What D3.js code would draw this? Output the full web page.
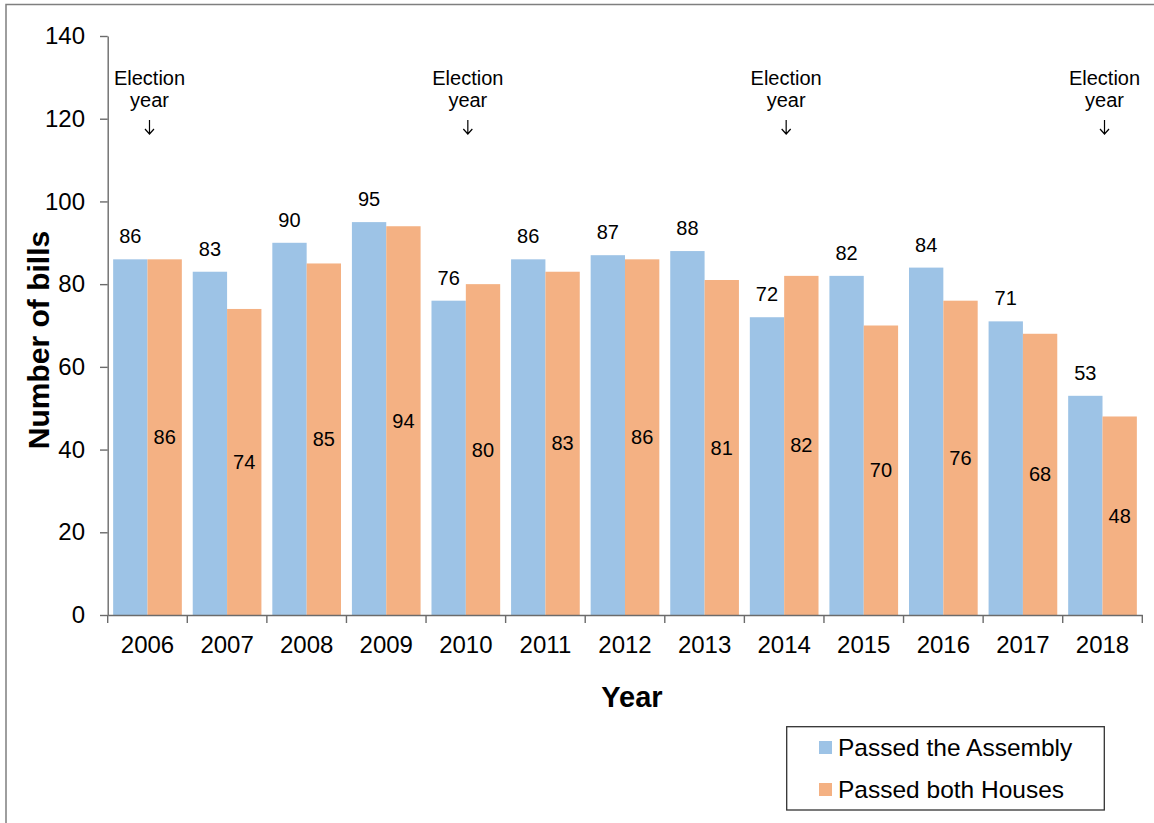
<!DOCTYPE html>
<html>
<head>
<meta charset="utf-8">
<script src="https://cdn.jsdelivr.net/npm/d3@7"></script>
<style>
  body { margin: 0; background: #fff; }
  svg text { font-family: "Liberation Sans", Arial, sans-serif; fill: #000; }
</style>
</head>
<body>
<div id="chart"></div>
<script>
const years = ["2006", "2007", "2008", "2009", "2010", "2011", "2012", "2013", "2014", "2015", "2016", "2017", "2018"];
const passedAssembly = [86, 83, 90, 95, 76, 86, 87, 88, 72, 82, 84, 71, 53];
const passedBoth = [86, 74, 85, 94, 80, 83, 86, 81, 82, 70, 76, 68, 48];
const electionYears = ["2006", "2010", "2014", "2018"];
const yTicks = [0, 20, 40, 60, 80, 100, 120, 140];
const seriesNames = ["Passed the Assembly", "Passed both Houses"];
const colors = ["#9dc3e6", "#f4b183"];

const w = 1154;
const h = 823;
const axisColor = "#6b6b6b";

let svg = d3.select("#chart").append("svg")
    .attr("width", w)
    .attr("height", h);

// outer frame
svg.append("rect")
    .attr("x", 6)
    .attr("y", 4.5)
    .attr("width", w + 20)
    .attr("height", h + 20)
    .attr("fill", "none")
    .attr("stroke", "#7f7f7f")
    .attr("stroke-width", 1.5);

let xScale = d3.scaleBand()
    .domain(years)
    .range([107.7, 1142.3])
    .paddingInner(0.137)
    .paddingOuter(0.0685);

let xInner = d3.scaleBand()
    .domain([0, 1])
    .range([0, xScale.bandwidth()]);

let yScale = d3.scaleLinear()
    .domain([0, 140])
    .range([615, 36]);

let data = years.map((yr, i) => ({ year: yr, values: [passedAssembly[i], passedBoth[i]] }));

// bars
let groups = svg.append("g")
    .selectAll("g")
    .data(data)
    .join("g")
    .attr("transform", d => "translate(" + xScale(d.year) + ",0)");

groups.selectAll("rect")
    .data(d => d.values.map((v, k) => ({ v: v, k: k })))
    .join("rect")
    .attr("x", d => xInner(d.k))
    .attr("y", d => yScale(d.v))
    .attr("width", xInner.bandwidth())
    .attr("height", d => yScale(0) - yScale(d.v))
    .attr("fill", d => colors[d.k]);

// labels: assembly above the bar, both houses in the middle
groups.append("text")
    .attr("x", xInner(0) + xInner.bandwidth() / 2)
    .attr("y", d => yScale(d.values[0]) - 16)
    .attr("text-anchor", "middle")
    .style("font-size", "20px")
    .text(d => d.values[0]);

groups.append("text")
    .attr("x", xInner(1) + xInner.bandwidth() / 2)
    .attr("y", d => (yScale(d.values[1]) + yScale(0)) / 2 + 7)
    .attr("text-anchor", "middle")
    .style("font-size", "20px")
    .text(d => d.values[1]);

// y axis
let yAxis = svg.append("g")
    .attr("transform", "translate(107.7,0)")
    .call(d3.axisLeft(yScale).tickValues(yTicks).tickSize(7.7).tickSizeOuter(0).tickPadding(15));
yAxis.selectAll("text").style("font-size", "24px");

// x axis
let step = xScale.step();
let gap = step * xScale.paddingInner();
let xAxis = svg.append("g")
    .attr("transform", "translate(0,615)")
    .call(d3.axisBottom(xScale).tickSize(0).tickSizeOuter(0).tickPadding(21));
xAxis.selectAll("text").style("font-size", "24px");

let bounds = years.map(yr => xScale(yr) - gap / 2);
bounds.push(xScale(years[years.length - 1]) + xScale.bandwidth() + gap / 2);
xAxis.selectAll(".bound")
    .data(bounds)
    .join("line")
    .attr("class", "bound")
    .attr("x1", d => d)
    .attr("x2", d => d)
    .attr("y1", 0)
    .attr("y2", 8);

svg.selectAll(".domain, .tick line, .bound")
    .attr("stroke", axisColor)
    .attr("stroke-width", 1.4);

// axis titles
svg.append("text")
    .attr("transform", "translate(49,340) rotate(-90)")
    .attr("text-anchor", "middle")
    .style("font-size", "30px")
    .style("font-weight", "bold")
    .text("Number of bills");

svg.append("text")
    .attr("x", 632)
    .attr("y", 707)
    .attr("text-anchor", "middle")
    .style("font-size", "29px")
    .style("font-weight", "bold")
    .text("Year");

// election year notes
let notes = svg.append("g")
    .selectAll("g")
    .data(electionYears)
    .join("g")
    .attr("transform", d => "translate(" + (xScale(d) + xScale.bandwidth() / 2 + 2) + ",0)");

notes.append("text")
    .attr("y", 84.5)
    .attr("text-anchor", "middle")
    .style("font-size", "20px")
    .text("Election");

notes.append("text")
    .attr("y", 106.5)
    .attr("text-anchor", "middle")
    .style("font-size", "20px")
    .text("year");

notes.append("path")
    .attr("d", "M0,120V134M-4.5,129L0,134L4.5,129")
    .attr("fill", "none")
    .attr("stroke", "#000")
    .attr("stroke-width", 1.2);

// legend
let legend = svg.append("g");
legend.append("rect")
    .attr("x", 786.7)
    .attr("y", 726.7)
    .attr("width", 317.6)
    .attr("height", 83.3)
    .attr("fill", "#fff")
    .attr("stroke", "#333")
    .attr("stroke-width", 1.3);

let items = legend.selectAll(".item")
    .data(seriesNames)
    .join("g")
    .attr("class", "item")
    .attr("transform", (d, i) => "translate(819," + (741 + i * 42) + ")");

items.append("rect")
    .attr("width", 13)
    .attr("height", 13)
    .attr("fill", (d, i) => colors[i]);

items.append("text")
    .attr("x", 19)
    .attr("y", 14.7)
    .style("font-size", "24.5px")
    .text(d => d);
</script>
</body>
</html>
